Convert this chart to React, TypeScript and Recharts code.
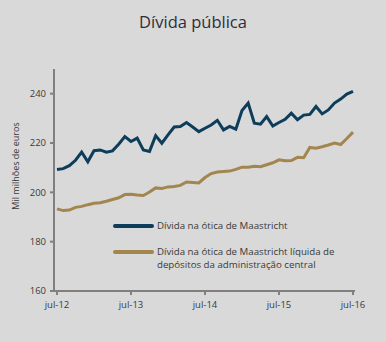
import { LineChart, Line, XAxis, YAxis } from 'recharts';

const monthNames = ['jul', 'ago', 'set', 'out', 'nov', 'dez', 'jan', 'fev', 'mar', 'abr', 'mai', 'jun'];
const months = Array.from({ length: 49 }, (_, i) => `${monthNames[i % 12]}-${12 + Math.floor((i + 6) / 12)}`);

const maastricht = [
  209.3, 209.6, 210.8, 213.0, 216.3, 212.4, 216.9, 217.2, 216.3, 216.8, 219.5, 222.6,
  220.6, 222.0, 217.2, 216.6, 223.0, 219.9, 223.3, 226.5, 226.7, 228.3, 226.5, 224.6,
  226.0, 227.3, 229.2, 225.3, 226.7, 225.6, 233.2, 236.2, 228.0, 227.6, 230.7, 226.9,
  228.3, 229.6, 232.1, 229.4, 231.3, 231.6, 234.8, 231.8, 233.4, 236.2, 237.8, 239.8,
  240.9,
];

const netDeposits = [
  193.3, 192.6, 192.8, 193.9, 194.3, 195.0, 195.6, 195.8, 196.4, 197.1, 197.8, 199.1,
  199.2, 198.9, 198.7, 200.1, 201.8, 201.6, 202.2, 202.4, 202.8, 204.2, 204.0, 203.8,
  206.0, 207.6, 208.2, 208.4, 208.6, 209.3, 210.2, 210.2, 210.6, 210.4, 211.2, 212.0,
  213.2, 212.8, 212.9, 214.2, 214.0, 218.2, 217.9, 218.5, 219.2, 220.0, 219.4, 221.8,
  224.4,
];

const yTicks = [160, 180, 200, 220, 240];

const seriesNames = [
  'Dívida na ótica de Maastricht',
  'Dívida na ótica de Maastricht líquida de depósitos da administração central',
];

const NAVY = '#0e3d5b';
const GOLD = '#a3864e';
const AXIS = '#808080';
const TEXT = '#3a3a3a';
const FONT = '"Open Sans", "DejaVu Sans", sans-serif';

const data = months.map((m, i) => ({ month: m, a: maastricht[i], b: netDeposits[i] }));

function LegendBox() {
  const items = [
    { color: NAVY, label: seriesNames[0] },
    { color: GOLD, label: seriesNames[1] },
  ];
  return (
    <div
      style={{
        position: 'absolute',
        left: 113,
        top: 219,
        fontFamily: FONT,
        fontSize: 9.7,
        color: TEXT,
        lineHeight: '13px',
      }}
    >
      {items.map((it, i) => (
        <div key={i} style={{ display: 'flex', alignItems: 'flex-start', marginBottom: 13 }}>
          <div
            style={{
              width: 41,
              height: 4,
              background: it.color,
              marginTop: 5,
              marginRight: 3,
              borderRadius: 2,
              flexShrink: 0,
            }}
          />
          <div style={{ width: 180 }}>{it.label}</div>
        </div>
      ))}
    </div>
  );
}

function YLabel() {
  return (
    <text
      x={19}
      y={166}
      transform="rotate(-90 19 166)"
      textAnchor="middle"
      fontFamily={FONT}
      fontSize={9}
      fill={TEXT}
    >
      Mil milhões de euros
    </text>
  );
}

export default function App() {
  return (
    <div style={{ position: 'absolute', left: 0, top: 0, width: 386, height: 342, background: '#d9d9d9' }}>
      <div
        style={{
          position: 'absolute',
          left: 0,
          top: 10,
          width: 386,
          textAlign: 'center',
          fontFamily: FONT,
          fontSize: 16.5,
          color: '#2e2e38',
        }}
      >
        Dívida pública
      </div>
      <LineChart width={386} height={342} data={data} margin={{ top: 69, right: 31, bottom: 21, left: 8 }}>
        <XAxis
          dataKey="month"
          interval={11}
          padding={{ left: 3, right: 2 }}
          height={30}
          axisLine={{ stroke: AXIS, strokeWidth: 2 }}
          tickLine={{ stroke: AXIS, strokeWidth: 2 }}
          tickSize={4}
          tick={{ fontFamily: FONT, fontSize: 9.5, fill: TEXT }}
          tickMargin={6}
        />
        <YAxis
          domain={[160, 250]}
          ticks={yTicks}
          width={46}
          axisLine={{ stroke: AXIS, strokeWidth: 2 }}
          tickLine={{ stroke: AXIS, strokeWidth: 2 }}
          tickSize={4}
          tick={{ fontFamily: FONT, fontSize: 9.5, fill: TEXT }}
          tickMargin={4}
          label={<YLabel />}
        />
        <Line
          type="linear"
          dataKey="a"
          name={seriesNames[0]}
          stroke={NAVY}
          strokeWidth={3}
          dot={false}
          isAnimationActive={false}
        />
        <Line
          type="linear"
          dataKey="b"
          name={seriesNames[1]}
          stroke={GOLD}
          strokeWidth={3}
          dot={false}
          isAnimationActive={false}
        />
      </LineChart>
      <LegendBox />
    </div>
  );
}
